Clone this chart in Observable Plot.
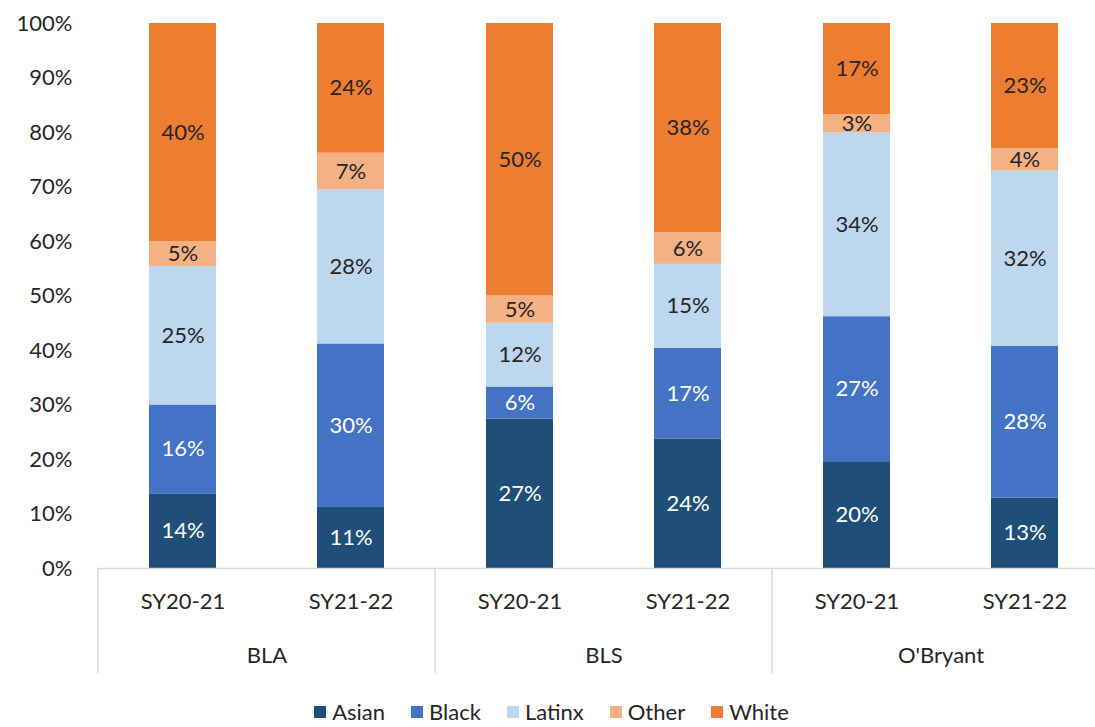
<!DOCTYPE html>
<html>
<head>
<meta charset="utf-8">
<script src="https://cdn.jsdelivr.net/npm/d3@7"></script>
<script src="https://cdn.jsdelivr.net/npm/@observablehq/plot@0.6"></script>
<style>
  html, body { margin: 0; padding: 0; background: #fff; }
  #wrap { width: 1095px; overflow: hidden; font-family: Lato, "Open Sans", sans-serif; }
  #chart svg { max-width: none !important; display: block; }
  #legend { display: flex; justify-content: center; align-items: center; margin-top: 10px; padding-left: 8px;
            font-size: 22px; color: #262626; line-height: 24px; }
  #legend .item { display: flex; align-items: center; margin: 0 13px; }
  #legend .sw { width: 12px; height: 12px; margin-right: 6px; }
</style>
</head>
<body>
<div id="wrap"><div id="chart"></div><div id="legend"></div></div>
<script>
const schools = ["BLA", "BLA", "BLS", "BLS", "O'Bryant", "O'Bryant"];
const years = ["SY20-21", "SY21-22", "SY20-21", "SY21-22", "SY20-21", "SY21-22"];
const races = ["Asian", "Black", "Latinx", "Other", "White"];
const asian = [13.7, 11.2, 27.4, 23.7, 19.6, 12.9];
const black = [16.3, 30.0, 5.9, 16.7, 26.6, 27.9];
const latinx = [25.4, 28.3, 11.7, 15.4, 33.7, 32.1];
const other = [4.6, 6.7, 5.0, 5.8, 3.4, 4.1];
const white = [40.0, 23.8, 50.0, 38.4, 16.7, 23.0];
const colors = ["#1f4e79", "#4472c4", "#bdd7ee", "#f4b183", "#ed7d31"];
const yTicks = [0, 10, 20, 30, 40, 50, 60, 70, 80, 90, 100];

const series = [asian, black, latinx, other, white];
const rows = [];
schools.forEach((s, i) => {
  races.forEach((r, k) => rows.push({school: s, year: years[i], race: r, value: series[k][i]}));
});
const darkRaces = ["Asian", "Black"];
const fmt = d => Math.round(d.value) + "%";

const FONT = 22;
const chart = Plot.plot({
  width: 1112,
  height: 690,
  marginLeft: 98,
  marginRight: 3,
  marginTop: 23,
  marginBottom: 122,
  style: {fontFamily: "Lato, 'Open Sans', sans-serif", fontSize: FONT + "px", color: "#262626", background: "white", maxWidth: "none"},
  fx: {domain: ["BLA", "BLS", "O'Bryant"], padding: 0, axis: null},
  x: {domain: ["SY20-21", "SY21-22"], paddingInner: 0.6, paddingOuter: 0.3, axis: null},
  y: {domain: [0, 100], axis: null},
  color: {domain: races, range: colors},
  marks: [
    Plot.barY(rows, Plot.stackY({fx: "school", x: "year", y: "value", z: "race", order: races, fill: "race"})),
    Plot.text(rows, Plot.stackY({fx: "school", x: "year", y: "value", z: "race", order: races,
      text: d => darkRaces.includes(d.race) ? fmt(d) : null, fill: "white", fontSize: FONT})),
    Plot.text(rows, Plot.stackY({fx: "school", x: "year", y: "value", z: "race", order: races,
      text: d => darkRaces.includes(d.race) ? null : fmt(d), fill: "#262626", fontSize: FONT})),
    Plot.ruleY([0], {stroke: "#d9d9d9", strokeWidth: 1.5}),
    Plot.axisY({ticks: yTicks, tickSize: 0, tickPadding: 26, tickFormat: d => d + "%", label: null, fontSize: FONT}),
    Plot.axisX({tickSize: 0, tickPadding: 25, label: null, fontSize: FONT}),
    Plot.axisFx({anchor: "bottom", tickSize: 0, tickPadding: 79, label: null, fontSize: FONT})
  ]
});
document.getElementById("chart").appendChild(chart);

// group separators below the axis, placed with the fx scale
const fx = chart.scale("fx");
const yS = chart.scale("y");
const y0 = yS.apply(0);
const edges = fx.domain.map(s => fx.apply(s)).concat([fx.apply(fx.domain[fx.domain.length - 1]) + fx.bandwidth]);
d3.select(chart).append("g")
  .selectAll("line").data(edges).join("line")
  .attr("x1", d => d).attr("x2", d => d)
  .attr("y1", y0).attr("y2", y0 + 105)
  .attr("stroke", "#d9d9d9").attr("stroke-width", 1.5);

// legend
const lg = d3.select("#legend");
races.forEach((r, i) => {
  const it = lg.append("div").attr("class", "item");
  it.append("div").attr("class", "sw").style("background", colors[i]);
  it.append("span").text(r);
});
</script>
</body>
</html>
